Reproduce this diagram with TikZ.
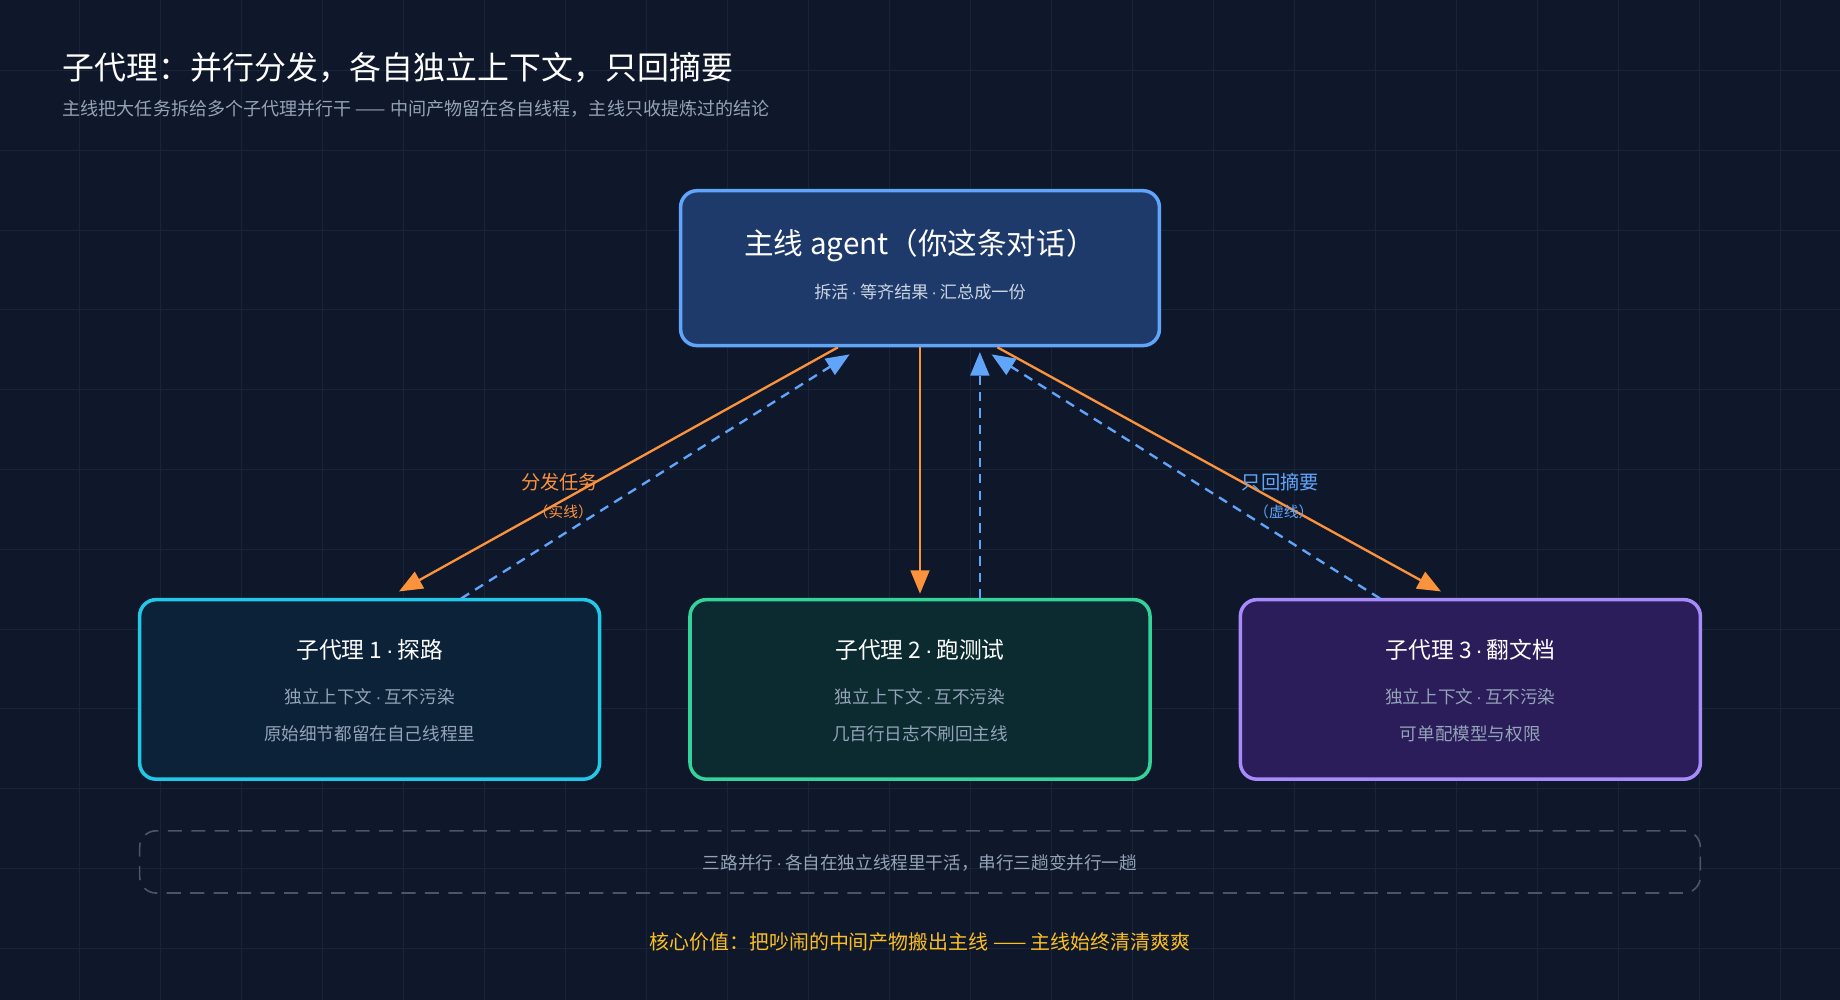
\documentclass[tikz,border=0pt]{standalone}
\usepackage{fontspec}
\setmainfont{Noto Sans CJK SC}
\newfontfamily\latinf{Liberation Sans}
\newcommand{\md}{{\latinf\,·\,}}
\usetikzlibrary{arrows.meta}
\definecolor{bg}{HTML}{0F172A}
\definecolor{gridc}{HTML}{1A2438}
\definecolor{org}{HTML}{FB923C}
\definecolor{blu}{HTML}{60A5FA}
\definecolor{txtg}{HTML}{94A3B8}
\definecolor{txtl}{HTML}{CBD5E1}
\tikzset{
 px/.style={x=0.5pt,y=-0.5pt},
 box/.style={draw, line width=1.5pt, rounded corners=7pt, inner sep=0pt},
 solidarr/.style={draw=org, line width=1pt, -{Triangle[length=10pt,width=8pt]}},
 dasharr/.style={draw=blu, line width=1pt, dash pattern=on 4pt off 3pt, -{Triangle[length=10pt,width=8pt]}},
 t/.style={text=white, inner sep=0pt},
}
\begin{document}
\begin{tikzpicture}[px]
\fill[bg] (0,0) rectangle (1568,852);
\useasboundingbox (0,0) rectangle (1568,852);
\foreach \x in {68,137,...,1568} \draw[gridc,line width=0.4pt] (\x,0)--(\x,852);
\foreach \y in {60,128,...,852} \draw[gridc,line width=0.4pt] (0,\y)--(1568,\y);
\node[t,anchor=west,font=\fontsize{13.6}{15}\selectfont] (title) at (53,58) {子代理：并行分发，各自独立上下文，只回摘要};
\node[t,anchor=west,text=txtg,font=\fontsize{7.7}{9}\selectfont] (sub) at (53,93) {主线把大任务拆给多个子代理并行干 —— 中间产物留在各自线程，主线只收提炼过的结论};
% main box
\node[box,draw=blu,fill={rgb,255:red,30;green,58;blue,106}, minimum width=204pt, minimum height=66pt] (m) at (784,228.5) {};
\node[t,font=\fontsize{12.6}{14}\selectfont] (mt) at (784,209) {主线 agent（你这条对话）};
\node[t,text=txtl,font=\fontsize{7.3}{9}\selectfont] (ms) at (784,249) {拆活\md 等齐结果\md 汇总成一份};
% sub boxes
\node[box,draw={rgb,255:red,34;green,200;blue,232},fill={rgb,255:red,12;green,34;blue,56},minimum width=196pt,minimum height=76.5pt] (a) at (315,587.5) {};
\node[box,draw={rgb,255:red,52;green,211;blue,153},fill={rgb,255:red,11;green,43;blue,48},minimum width=196pt,minimum height=76.5pt] (b) at (784,587.5) {};
\node[box,draw={rgb,255:red,167;green,139;blue,250},fill={rgb,255:red,42;green,29;blue,90},minimum width=196pt,minimum height=76.5pt] (c) at (1253,587.5) {};
\foreach \n/\x/\ti/\tj/\l in {a/315/子代理 1/探路/原始细节都留在自己线程里, b/784/子代理 2/跑测试/几百行日志不刷回主线, c/1253/子代理 3/翻文档/可单配模型与权限}{
 \node[t,font=\fontsize{9.7}{11}\selectfont] (\n t) at (\x,554) {\ti\md\tj};
 \node[t,text=txtg,font=\fontsize{7.5}{9}\selectfont] (\n s1) at (\x,594) {独立上下文\md 互不污染};
 \node[t,text=txtg,font=\fontsize{7.5}{9}\selectfont] (\n s2) at (\x,625) {\l};
}
% dashed band
\node[draw={rgb,255:red,75;green,85;blue,99},line width=0.7pt,dash pattern=on 6pt off 4pt,rounded corners=7pt,minimum width=665pt,minimum height=26.5pt,inner sep=0pt] (band) at (784,734.5) {};
\node[t,text=txtg,font=\fontsize{7.5}{9}\selectfont] (bt) at (784,735) {三路并行\md 各自在独立线程里干活，串行三趟变并行一趟};
\node[t,text={rgb,255:red,251;green,191;blue,36},font=\fontsize{8.5}{10}\selectfont] (core) at (784,803) {核心价值：把吵闹的中间产物搬出主线 —— 主线始终清清爽爽};
% connector endpoints
\coordinate (m1) at (714,296); \coordinate (a1) at (340,504);
\coordinate (a2) at (393,510); \coordinate (m2) at (724,302);
\coordinate (m3) at (784,296); \coordinate (b1) at (784,506);
\coordinate (b2) at (835,510); \coordinate (m4) at (835,300);
\coordinate (m5) at (850,296); \coordinate (c1) at (1228,504);
\coordinate (c2) at (1176,510); \coordinate (m6) at (845,302);
\draw[solidarr] (m1)--(a1);
\draw[dasharr] (a2)--(m2);
\draw[solidarr] (m3)--(b1);
\draw[dasharr] (b2)--(m4);
\draw[solidarr] (m5)--(c1);
\draw[dasharr] (c2)--(m6);
\node[t,text=org,font=\fontsize{8.2}{9}\selectfont] (l1) at (477,411) {分发任务};
\node[t,text=org,font=\fontsize{6.3}{8}\selectfont] (l2) at (480,436) {（实线）};
\node[t,text=blu,font=\fontsize{8.2}{9}\selectfont] (l3) at (1091,411) {只回摘要};
\node[t,text=blu,font=\fontsize{6.3}{8}\selectfont] (l4) at (1094,436) {（虚线）};
\end{tikzpicture}
\end{document}
